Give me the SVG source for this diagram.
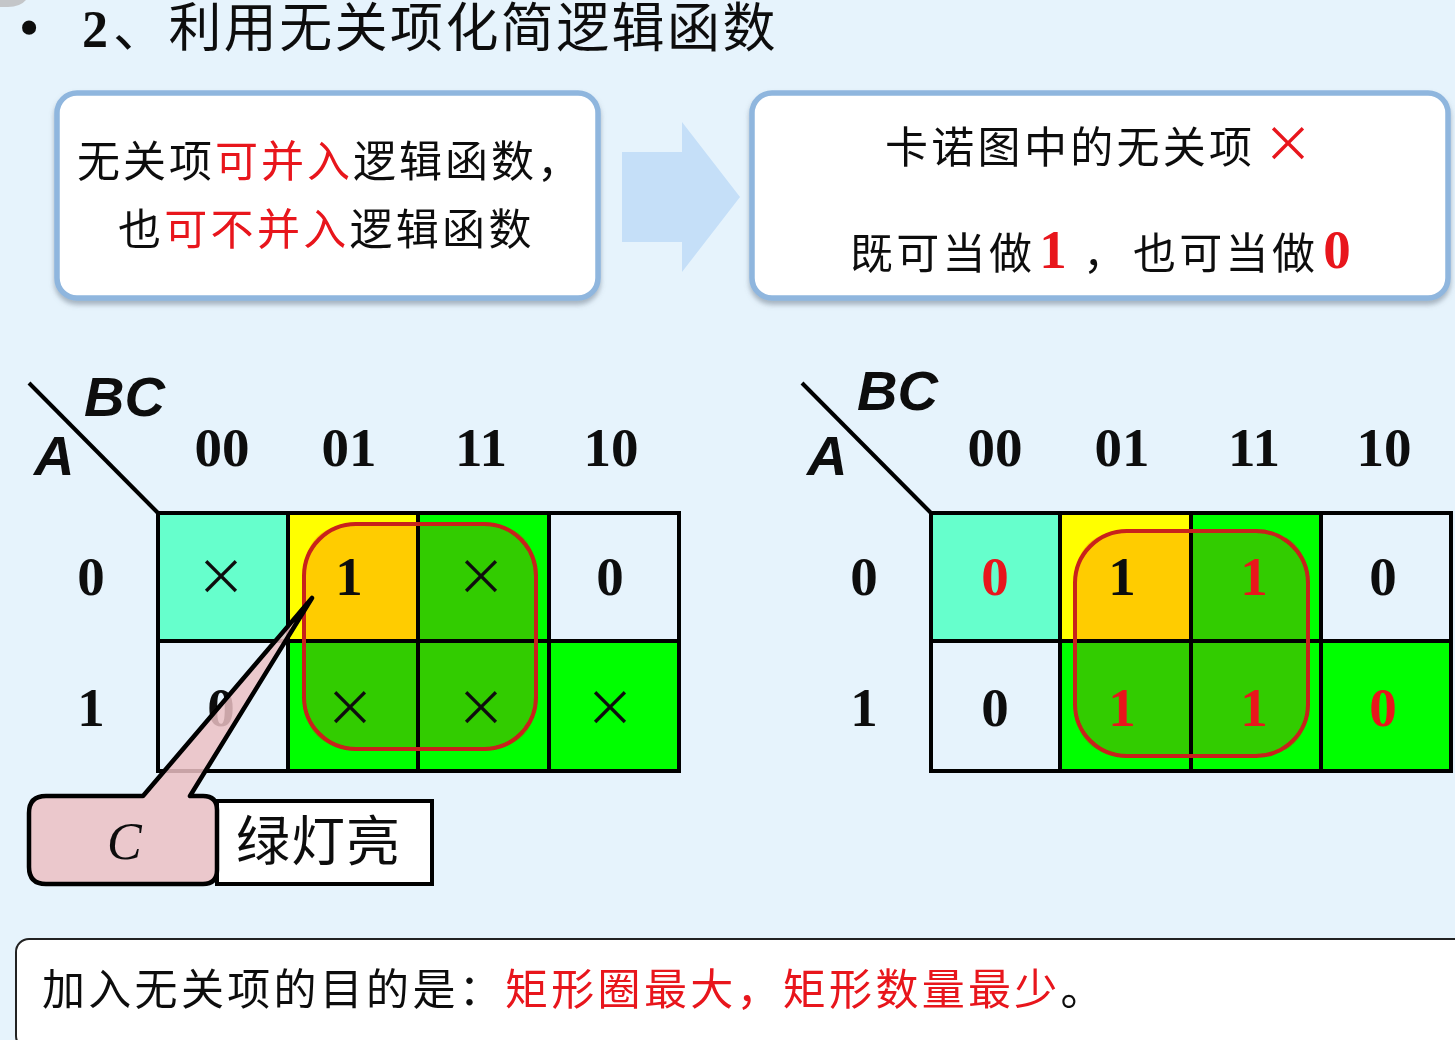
<svg xmlns="http://www.w3.org/2000/svg" width="1455" height="1040" viewBox="0 0 1455 1040">
<defs>
<filter id="soft" x="-2%" y="-2%" width="104%" height="104%"><feGaussianBlur stdDeviation="0.6"/></filter>
<filter id="sh" x="-5%" y="-5%" width="110%" height="115%"><feDropShadow dx="0" dy="4" stdDeviation="2.5" flood-color="#6f7f90" flood-opacity=".55"/></filter>
</defs>
<style>
text{font-family:"Liberation Serif","Noto Sans CJK SC",serif;fill:#111}
.cn{font-size:43px;letter-spacing:3.3px}
.r{fill:#e8141c}
.num{font-size:55px;font-weight:700;text-anchor:middle}
.ax{font-family:"Liberation Sans",sans-serif;font-size:56px;font-weight:700;font-style:italic}
.x{font-family:"Noto Sans CJK SC",sans-serif;font-size:50px;text-anchor:middle}
.box{fill:#fff;stroke:#8fb6de;stroke-width:5.5;filter:url(#sh)}
.g{stroke:#000;stroke-width:4;fill:none}
.ring{fill:none;stroke:#c8201a;stroke-width:4}
</style>
<rect width="1455" height="1040" fill="#e6f3fc"/>
<g filter="url(#soft)">
<path d="M0 0H26Q20 7 8 7H0Z" fill="#c4c6c9"/>
<g id="title">
<text x="20" y="45" font-size="52" font-weight="700">•</text>
<text x="82" y="47" font-size="52" font-weight="700">2</text>
<text x="113" y="47" font-size="53" letter-spacing="2.4">、利用无关项化简逻辑函数</text>
</g>
<g id="note-left">
<rect class="box" x="57" y="93" width="541" height="205" rx="20"/>
<text class="cn" x="77" y="177" style="letter-spacing:3px">无关项<tspan class="r">可并入</tspan>逻辑函数，</text>
<text class="cn" x="118" y="245">也<tspan class="r">可不并入</tspan>逻辑函数</text>
</g>
<g id="note-right">
<rect class="box" x="752" y="93" width="696" height="205" rx="20"/>
<text class="cn" x="885" y="163">卡诺图中的无关项</text>
<text class="x" x="1288" y="162" style="fill:#e8141c">×</text>
<text class="cn" x="850" y="269">既可当做</text>
<text x="1053" y="268" class="num" style="fill:#e8141c">1</text>
<text class="cn" x="1083" y="269">，</text>
<text class="cn" x="1133" y="269">也可当做</text>
<text x="1337" y="268" class="num" style="fill:#e8141c">0</text>
</g>
<g id="kmap-left">
<rect x="158" y="513" width="130" height="128" fill="#66ffcc"/>
<rect x="288" y="513" width="130" height="128" fill="#ffff00"/>
<rect x="418" y="513" width="131" height="128" fill="#00ff00"/>
<rect x="288" y="641" width="261" height="130" fill="#00ff00"/>
<rect x="549" y="641" width="130" height="130" fill="#00ff00"/>
<path d="M304 641V576Q304 524 356 524H418V641Z" fill="#ffcc00"/>
<path d="M418 524H484Q536 524 536 576V697Q536 749 484 749H356Q304 749 304 697V641H418Z" fill="#33cc00"/>
<path class="g" d="M158 513H679V771H158ZM288 513V771M418 513V771M549 513V771M158 641H679"/>
<rect class="ring" x="304" y="524" width="232" height="225" rx="52"/>
<text class="ax" x="84" y="416">BC</text>
<text class="ax" x="34" y="475">A</text>
<text class="num" x="222" y="466">00</text><text class="num" x="349" y="466">01</text><text class="num" x="481" y="466">11</text><text class="num" x="611" y="466">10</text>
<text class="num" x="91" y="595">0</text><text class="num" x="91" y="726">1</text>
<text class="x" x="221" y="595">×</text><text class="num" x="349" y="595">1</text><text class="x" x="481" y="595">×</text><text class="num" x="610" y="595">0</text>
<text class="num" x="221" y="726">0</text><text class="x" x="350" y="726">×</text><text class="x" x="481" y="726">×</text><text class="x" x="610" y="726">×</text>
</g>
<g id="kmap-right">
<rect x="931" y="513" width="129" height="128" fill="#66ffcc"/>
<rect x="1060" y="513" width="131" height="128" fill="#ffff00"/>
<rect x="1191" y="513" width="130" height="128" fill="#00ff00"/>
<rect x="1060" y="641" width="261" height="130" fill="#00ff00"/>
<rect x="1321" y="641" width="130" height="130" fill="#00ff00"/>
<path d="M1075 641V583Q1075 531 1127 531H1191V641Z" fill="#ffcc00"/>
<path d="M1191 531H1256Q1308 531 1308 583V704Q1308 756 1256 756H1127Q1075 756 1075 704V641H1191Z" fill="#33cc00"/>
<path class="g" d="M931 513H1451V771H931ZM1060 513V771M1191 513V771M1321 513V771M931 641H1451"/>
<rect class="ring" x="1075" y="531" width="233" height="225" rx="52"/>
<text class="ax" x="857" y="410">BC</text>
<text class="ax" x="807" y="475">A</text>
<text class="num" x="995" y="466">00</text><text class="num" x="1122" y="466">01</text><text class="num" x="1254" y="466">11</text><text class="num" x="1384" y="466">10</text>
<text class="num" x="864" y="595">0</text><text class="num" x="864" y="726">1</text>
<text class="num r" x="995" y="595">0</text><text class="num" x="1122" y="595">1</text><text class="num r" x="1254" y="595">1</text><text class="num" x="1383" y="595">0</text>
<text class="num" x="995" y="726">0</text><text class="num r" x="1122" y="726">1</text><text class="num r" x="1254" y="726">1</text><text class="num r" x="1383" y="726">0</text>
</g>
<g id="connectors">
<path d="M622 152H682V122L740 197L682 272V242H622Z" fill="#c5dff8"/>
<path d="M29 383L158 513" stroke="#000" stroke-width="4" fill="none"/>
<path d="M802 383L931 513" stroke="#000" stroke-width="4" fill="none"/>
</g>
<g id="label-green">
<rect x="217" y="801" width="215" height="83" fill="#fff" stroke="#000" stroke-width="4"/>
<text x="236" y="861" font-size="54" letter-spacing="1">绿灯亮</text>
</g>
<g id="callout-c">
<path d="M46 796H143L312 598L190 796H203Q217 796 217 810V870Q217 884 203 884H46Q29 884 29 867V813Q29 796 46 796Z" fill="#ebbfc3" fill-opacity=".85" stroke="#000" stroke-width="4.5" stroke-linejoin="round"/>
<text x="107" y="859" font-size="52" font-style="italic">C</text>
</g>
<g id="summary">
<rect x="16" y="939" width="1460" height="110" rx="13" fill="#fff" stroke="#222" stroke-width="2"/>
<text class="cn" x="42" y="1005">加入无关项的目的是：<tspan class="r">矩形圈最大，矩形数量最少</tspan>。</text>
</g>
</g>
</svg>
